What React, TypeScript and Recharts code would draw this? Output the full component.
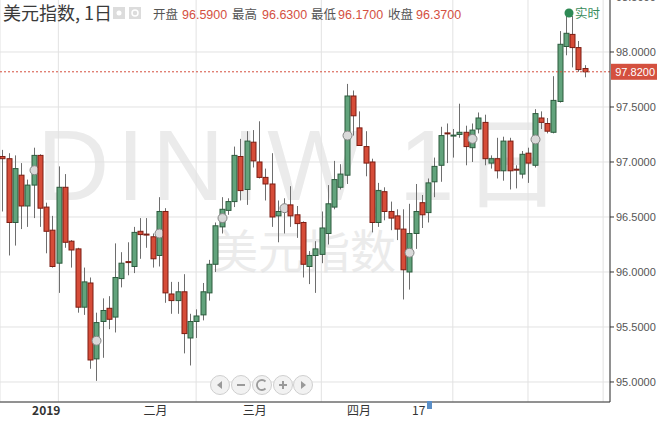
import React from 'react';
import { ComposedChart, Bar, XAxis, YAxis, CartesianGrid, ReferenceLine } from 'recharts';

// daily candles, 美元指数 (DINIW), late Dec 2018 -> Apr 2019
const opens = [
  97.05, 97.03, 96.45, 96.88, 96.6, 96.79, 97.06, 96.59, 96.38, 96.08,
  96.77, 96.28, 96.21, 95.68, 95.9, 95.21, 95.55, 95.67, 95.59, 95.94,
  96.09, 96.05, 96.37, 96.34, 96.32, 96.15, 96.55, 95.8, 95.74, 95.82,
  95.4, 95.55, 95.61, 95.81, 96.07, 96.41, 96.56, 96.64, 97.05, 96.75,
  97.18, 97.0, 96.86, 96.8, 96.51, 96.56, 96.61, 96.52, 96.45, 96.05,
  96.15, 96.16, 96.35, 96.59, 96.77, 96.88, 97.6, 97.31, 97.14, 97.0,
  96.45, 96.73, 96.55, 96.51, 96.39, 96.0, 96.35, 96.63, 96.54, 96.82,
  96.97, 97.26, 97.23, 97.25, 97.27, 97.13, 97.3, 97.36, 96.99, 97.03,
  96.92, 97.19, 96.93, 96.89, 97.08, 96.97, 97.4, 97.35, 97.27, 97.55,
  98.05, 98.16, 98.04, 97.85,
];
const highs = [
  97.11, 97.08, 97.06, 96.99, 96.84, 97.13, 97.07, 96.63, 96.51, 96.96,
  96.89, 96.29, 96.22, 96.04, 95.95, 95.63, 95.76, 95.78, 96.26, 96.18,
  96.27, 96.41, 96.49, 96.49, 96.35, 96.68, 96.58, 95.91, 95.91, 95.98,
  95.62, 95.66, 95.9, 96.11, 96.45, 96.68, 96.67, 97.14, 97.21, 97.28,
  97.29, 97.37, 96.94, 97.08, 96.65, 96.67, 96.78, 96.6, 96.46, 96.19,
  96.28, 96.55, 96.79, 97.01, 96.98, 97.71, 97.65, 97.46, 97.28, 97.03,
  96.81, 96.77, 96.64, 96.57, 96.57, 96.62, 96.8, 96.7, 96.85, 97.04,
  97.32, 97.35, 97.3, 97.53, 97.33, 97.35, 97.45, 97.43, 97.06, 97.22,
  97.23, 97.22, 96.97, 97.1, 97.13, 97.48, 97.46, 97.4, 97.78, 98.19,
  98.34, 98.33, 98.1, 97.88,
];
const lows = [
  96.55, 96.15, 96.24, 96.39, 96.41, 96.49, 96.41, 96.17, 96.04, 95.81,
  96.22, 96.04, 95.63, 95.61, 95.12, 95.01, 95.22, 95.48, 95.45, 95.86,
  95.97, 95.99, 96.12, 96.22, 96.04, 96.05, 95.72, 95.62, 95.62, 95.26,
  95.15, 95.4, 95.56, 95.74, 96.0, 96.35, 96.52, 96.59, 96.65, 96.61,
  96.95, 96.85, 96.65, 96.41, 96.27, 96.35, 96.41, 96.31, 95.95, 95.89,
  95.81, 96.08, 96.25, 96.57, 96.75, 96.8, 97.24, 97.15, 96.87, 96.36,
  96.41, 96.47, 96.38, 96.29, 95.75, 95.84, 96.21, 96.4, 96.45, 96.68,
  96.82, 96.99, 97.04, 97.22, 96.97, 97.0, 97.26, 96.97, 96.94, 96.85,
  96.83, 96.75, 96.76, 96.85, 96.81, 96.95, 97.3, 97.26, 97.26, 97.54,
  97.97, 97.86, 97.82, 97.77,
];
const closes = [
  97.03, 96.45, 96.94, 96.6, 96.79, 97.06, 96.58, 96.37, 96.05, 96.77,
  96.27, 96.2, 95.68, 95.91, 95.2, 95.54, 95.65, 95.57, 95.95, 96.08,
  96.08, 96.36, 96.34, 96.33, 96.12, 96.55, 95.81, 95.74, 95.82, 95.44,
  95.55, 95.6, 95.82, 96.07, 96.42, 96.57, 96.64, 97.06, 96.74, 97.19,
  97.01, 96.86, 96.8, 96.5, 96.55, 96.6, 96.51, 96.44, 96.07, 96.15,
  96.21, 96.4, 96.62, 96.84, 96.89, 97.6, 97.42, 97.15, 96.99, 96.45,
  96.74, 96.55, 96.49, 96.39, 96.02, 96.35, 96.55, 96.52, 96.81, 96.96,
  97.24, 97.25, 97.24, 97.27, 97.14, 97.29, 97.4, 97.03, 97.03, 96.92,
  97.19, 96.92, 96.92, 97.07, 96.99, 97.44, 97.36, 97.28, 97.56, 98.07,
  98.17, 98.04, 97.84, 97.82,
];

const markerIdx = [5, 15, 25, 35, 45, 55, 65, 75, 85];
const monthTickIdx = [9, 31, 51, 72, 84];
const monthTickLabels = ['2019', '二月', '三月', '四月', '17'];
const gridIdx = [9, 31, 51, 72, 84, 96];
const priceTicks = [95, 95.5, 96, 96.5, 97, 97.5, 98, 98.5];
const lastPrice = 97.82;
const hoverIdx = 7;

const data = opens.map((o, i) => ({ i, o, h: highs[i], l: lows[i], c: closes[i] }));

const UP_FILL = '#62a37c';
const UP_EDGE = '#2c5b3d';
const DN_FILL = '#d64c38';
const DN_EDGE = '#7d1d12';
const RED = '#d4503f';
const LATIN = "'Liberation Sans', 'Noto Sans CJK SC', sans-serif";
const CJK = "'Noto Sans CJK SC', 'Liberation Sans', sans-serif";

const Candle = (props: any) => {
  const { x, y, width, height, payload } = props;
  const { o, h, l, c, i } = payload;
  const pix = (v: number) => (h === l ? y : y + ((h - v) / (h - l)) * height);
  const cx = Math.round(x + width / 2) + 0.5;
  const up = c >= o;
  const top = pix(Math.max(o, c));
  const bot = pix(Math.min(o, c));
  const edge = up ? UP_EDGE : DN_EDGE;
  const flat = bot - top < 1.5;
  return (
    <g>
      <line x1={cx} x2={cx} y1={y} y2={y + height} stroke="#6e6e6e" strokeWidth={1} />
      {flat ? (
        <rect x={cx - 3} y={top - 1} width={6} height={2} fill={edge} />
      ) : (
        <rect x={cx - 2.5} y={top} width={5} height={bot - top} fill={up ? UP_FILL : DN_FILL} stroke={edge} strokeWidth={1} />
      )}
      {markerIdx.includes(i) && (
        <circle cx={cx} cy={pix((o + c) / 2)} r={4.5} fill="#d9d9d9" stroke="#858585" strokeWidth={1} />
      )}
    </g>
  );
};

const PriceTag = (props: any) => {
  const { viewBox } = props;
  if (!viewBox) return null;
  const x0 = viewBox.x + viewBox.width + 1;
  return (
    <g>
      <rect x={x0} y={viewBox.y - 8} width={47} height={16} fill={RED} />
      <text x={x0 + 44} y={viewBox.y + 4} textAnchor="end" fontSize={11} fill="#fff" fontFamily={LATIN}>
        {lastPrice.toFixed(4)}
      </text>
    </g>
  );
};

const MonthTick = (props: any) => {
  const { x, y, payload } = props;
  const k = monthTickIdx.indexOf(payload.value);
  if (k < 0) return null;
  return (
    <text x={x} y={y + 13} textAnchor="middle" fontSize={12} fill="#333" fontWeight={k === 0 ? 700 : 400} fontFamily={CJK}>
      {monthTickLabels[k]}
    </text>
  );
};

const NoTick = () => <g />;

const Watermark = () => (
  <svg width={657} height={421} style={{ position: 'absolute', left: 0, top: 0 }}>
    <text x={37} y={200} fontSize={100} textLength={525} lengthAdjust="spacing" fill="#ebebeb" fontFamily={LATIN}>
      DINIW,1日
    </text>
    <text x={212} y={268} fontSize={46} fill="#ebebeb" fontFamily={CJK}>
      美元指数
    </text>
  </svg>
);

const Overlay = () => {
  const info = [
    { label: '开盘', value: opens[hoverIdx], lx: 153, vx: 182 },
    { label: '最高', value: highs[hoverIdx], lx: 232, vx: 262 },
    { label: '最低', value: lows[hoverIdx], lx: 311, vx: 338 },
    { label: '收盘', value: closes[hoverIdx], lx: 388, vx: 416 },
  ];
  const navX = [220, 241, 262, 283, 303];
  return (
    <svg width={657} height={421} style={{ position: 'absolute', left: 0, top: 0, pointerEvents: 'none' }}>
      <text x={3} y={20} fontSize={18} fill="#3a3a3a" fontFamily={CJK}>美元指数, 1日</text>
      <rect x={113} y={7} width={12} height={12} fill="#dcdcdc" />
      <circle cx={119} cy={13} r={2.5} fill="#fff" />
      <rect x={129} y={7} width={12} height={12} fill="#dcdcdc" />
      <circle cx={135} cy={13} r={3} fill="none" stroke="#fff" strokeWidth={1.5} />
      {info.map((d) => (
        <g key={d.label}>
          <text x={d.lx} y={19} fontSize={12.5} fill="#555" fontFamily={CJK}>{d.label}</text>
          <text x={d.vx} y={19} fontSize={12.5} fill={RED} fontFamily={LATIN}>{d.value.toFixed(4)}</text>
        </g>
      ))}
      <circle cx={569} cy={13} r={4.5} fill="#2e8a55" />
      <text x={575} y={18} fontSize={12.5} fill="#3a8c5c" fontFamily={CJK}>实时</text>
      {navX.map((cx, k) => (
        <g key={k}>
          <circle cx={cx} cy={385} r={9.5} fill="#f2f2f2" stroke="#cfcfcf" strokeWidth={1} />
          {k === 0 && <path d={`M${cx - 3} 385 L${cx + 2} 381 L${cx + 2} 389 Z`} fill="#9a9a9a" />}
          {k === 1 && <rect x={cx - 4} y={384} width={8} height={2} fill="#9a9a9a" />}
          {k === 2 && (
            <path d={`M${cx + 3.5} ${381.5} A5 5 0 1 0 ${cx + 3.5} ${388.5}`} fill="none" stroke="#9a9a9a" strokeWidth={1.8} />
          )}
          {k === 3 && (
            <g fill="#9a9a9a">
              <rect x={cx - 4} y={384} width={8} height={2} />
              <rect x={cx - 1} y={381} width={2} height={8} />
            </g>
          )}
          {k === 4 && <path d={`M${cx + 3} 385 L${cx - 2} 381 L${cx - 2} 389 Z`} fill="#9a9a9a" />}
        </g>
      ))}
      <path d="M427 401 L432 401 L432 409 L427 409 Z" fill="#5b8fc7" />
    </svg>
  );
};

export default function App() {
  return (
    <div style={{ position: 'fixed', left: 0, top: 0, width: 657, height: 421, overflow: 'hidden', background: '#fff' }}>
      <Watermark />
      <div style={{ position: 'absolute', left: 0, top: -20 }}>
        <ComposedChart width={657} height={460} data={data} margin={{ top: 0, right: 0, bottom: 18, left: 0 }}>
          <CartesianGrid xAxisId="main" stroke="#e2e2e2" />
          <XAxis
            xAxisId="main"
            dataKey="i"
            type="number"
            domain={[-0.32, 97.1]}
            ticks={gridIdx}
            allowDataOverflow
            height={0}
            tick={<NoTick />}
            axisLine={false}
            tickLine={false}
          />
          <XAxis
            xAxisId="lab"
            dataKey="i"
            type="number"
            domain={[-0.32, 122.53]}
            ticks={monthTickIdx}
            allowDataOverflow
            height={20}
            tickSize={0}
            tickMargin={0}
            tickLine={false}
            axisLine={{ stroke: '#333' }}
            tick={<MonthTick />}
          />
          <YAxis
            orientation="right"
            width={47}
            domain={[94.818, 98.6545]}
            ticks={priceTicks}
            allowDataOverflow
            tickFormatter={(v: number) => v.toFixed(4)}
            tick={{ fill: '#555', fontSize: 11, fontFamily: LATIN }}
            axisLine={{ stroke: '#333' }}
            tickLine={{ stroke: '#333' }}
            tickSize={4}
            tickMargin={2}
          />
          <ReferenceLine
            xAxisId="main"
            y={lastPrice}
            stroke={RED}
            strokeDasharray="2 2"
            label={<PriceTag />}
          />
          <Bar
            xAxisId="main"
            dataKey={(d: any) => [d.l, d.h]}
            barSize={5}
            shape={<Candle />}
            isAnimationActive={false}
          />
        </ComposedChart>
      </div>
      <Overlay />
    </div>
  );
}
